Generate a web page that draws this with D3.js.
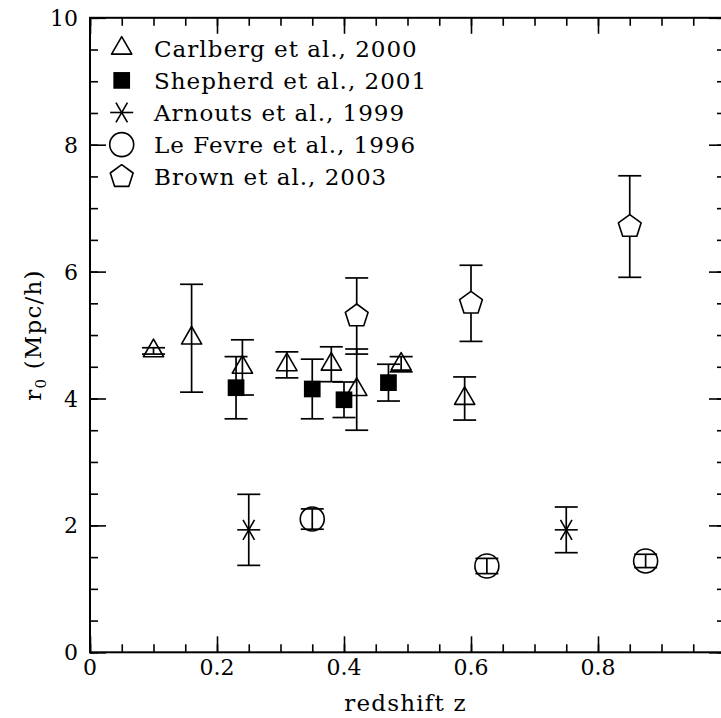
<!DOCTYPE html>
<html>
<head>
<meta charset="utf-8">
<script src="https://cdn.jsdelivr.net/npm/d3@7"></script>
<style>
  html, body { margin: 0; padding: 0; background: #fff; }
  svg { display: block; }
  text { font-family: "DejaVu Serif", "Liberation Serif", serif; fill: #000; }
</style>
</head>
<body>
<svg id="chart" width="721" height="718"></svg>
<script>
// ---------- data ----------
const carlbergZ   = [0.10, 0.16, 0.24, 0.31, 0.38, 0.42, 0.49, 0.59];
const carlbergR   = [4.75, 4.95, 4.49, 4.53, 4.54, 4.14, 4.54, 4.00];
const carlbergErr = [0.05, 0.85, 0.435, 0.205, 0.275, 0.64, 0.12, 0.34];

const shepherdZ   = [0.23, 0.35, 0.40, 0.47];
const shepherdR   = [4.17, 4.15, 3.98, 4.25];
const shepherdErr = [0.49, 0.47, 0.28, 0.29];

const arnoutsZ    = [0.25, 0.75];
const arnoutsR    = [1.93, 1.93];
const arnoutsErr  = [0.56, 0.36];

const lefevreZ    = [0.35, 0.625, 0.875];
const lefevreR    = [2.10, 1.36, 1.44];
const lefevreErr  = [0.16, 0.12, 0.105];

const brownZ      = [0.42, 0.60, 0.85];
const brownR      = [5.30, 5.50, 6.71];
const brownErr    = [0.60, 0.60, 0.80];

const legendLabels = ["Carlberg et al., 2000", "Shepherd et al., 2001",
                      "Arnouts et al., 1999", "Le Fevre et al., 1996", "Brown et al., 2003"];
const legendSymbols = ["triangle", "square", "asterisk", "circle", "pentagon"];

const xTickValues = [0, 0.2, 0.4, 0.6, 0.8];
const xTickLabels = ["0", "0.2", "0.4", "0.6", "0.8"];
const yTickValues = [0, 2, 4, 6, 8, 10];
const yTickLabels = ["0", "2", "4", "6", "8", "10"];
const xTitle = "redshift z";

// ---------- layout ----------
const svg = d3.select("#chart");
const x = d3.scaleLinear().domain([0, 1]).range([90, 725]);
const y = d3.scaleLinear().domain([0, 10]).range([652.3, 17.8]);
const INK = "#000";
const MAJOR = 16, MINOR = 8;

// frame
svg.append("rect")
  .attr("x", x(0)).attr("y", y(10))
  .attr("width", x(1) - x(0)).attr("height", y(0) - y(10))
  .attr("fill", "none").attr("stroke", INK).attr("stroke-width", 2);

function styleAxis(g) {
  g.select(".domain").remove();
  g.selectAll(".tick line").attr("stroke", INK).attr("stroke-width", 1.6);
  g.selectAll(".tick text").remove();
}
const xMajor = d3.range(0, 1.0001, 0.2);
const xMinor = d3.range(0, 1.0001, 0.05);
const yMajor = d3.range(0, 10.001, 2);
const yMinor = d3.range(0, 10.001, 0.5);

[[d3.axisBottom, y(0)], [d3.axisTop, y(10)]].forEach(([ax, ty]) => {
  svg.append("g").attr("transform", `translate(0,${ty})`)
    .call(ax(x).tickValues(xMinor).tickSizeInner(-MINOR).tickSizeOuter(0)).call(styleAxis);
  svg.append("g").attr("transform", `translate(0,${ty})`)
    .call(ax(x).tickValues(xMajor).tickSizeInner(-MAJOR).tickSizeOuter(0)).call(styleAxis);
});
[[d3.axisLeft, x(0)], [d3.axisRight, x(1)]].forEach(([ax, tx]) => {
  svg.append("g").attr("transform", `translate(${tx},0)`)
    .call(ax(y).tickValues(yMinor).tickSizeInner(-MINOR).tickSizeOuter(0)).call(styleAxis);
  svg.append("g").attr("transform", `translate(${tx},0)`)
    .call(ax(y).tickValues(yMajor).tickSizeInner(-MAJOR).tickSizeOuter(0)).call(styleAxis);
});

// tick labels
svg.append("g").selectAll("text").data(xTickValues).join("text")
  .attr("x", d => x(d)).attr("y", y(0) + 23)
  .attr("text-anchor", "middle").attr("font-size", 22)
  .text((d, i) => xTickLabels[i]);
svg.append("g").selectAll("text").data(yTickValues).join("text")
  .attr("x", x(0) - 12).attr("y", d => y(d) + 8)
  .attr("text-anchor", "end").attr("font-size", 22)
  .text((d, i) => yTickLabels[i]);

// axis titles
svg.append("text")
  .attr("x", (x(0) + x(1)) / 2 - 2).attr("y", 711)
  .attr("text-anchor", "middle").attr("font-size", 23)
  .attr("letter-spacing", 1.2)
  .text(xTitle);
const yt = svg.append("text")
  .attr("transform", `translate(41,${(y(0) + y(10)) / 2}) rotate(-90)`)
  .attr("text-anchor", "middle").attr("font-size", 23)
  .attr("letter-spacing", 1.2);
yt.append("tspan").text("r");
yt.append("tspan").attr("font-size", 15).attr("dy", 5).text("0");
yt.append("tspan").attr("dy", -5).text(" (Mpc/h)");

// ---------- markers ----------
const CAP = 11.5;
function marker(g, type, cx, cy) {
  if (type === "triangle") {
    const R = 11.7;
    const pts = [[0, -R], [R * Math.sin(Math.PI / 3), R / 2], [-R * Math.sin(Math.PI / 3), R / 2]];
    g.append("polygon").attr("points", pts.map(p => [cx + p[0], cy + p[1]].join(",")).join(" "))
      .attr("fill", "none").attr("stroke", INK).attr("stroke-width", 1.6)
      .attr("stroke-linejoin", "round");
  } else if (type === "square") {
    const s = 16.7;
    g.append("rect").attr("x", cx - s / 2).attr("y", cy - s / 2).attr("width", s).attr("height", s)
      .attr("fill", INK);
  } else if (type === "pentagon") {
    const R = 12;
    const pts = d3.range(5).map(k => {
      const a = -Math.PI / 2 + k * 2 * Math.PI / 5;
      return [cx + R * Math.cos(a), cy + R * Math.sin(a)];
    });
    g.append("polygon").attr("points", pts.map(p => p.join(",")).join(" "))
      .attr("fill", "#fff").attr("stroke", INK).attr("stroke-width", 1.6)
      .attr("stroke-linejoin", "round");
  } else if (type === "circle") {
    g.append("circle").attr("cx", cx).attr("cy", cy).attr("r", 12)
      .attr("fill", "none").attr("stroke", INK).attr("stroke-width", 1.6);
  } else if (type === "asterisk") {
    const r = 11.5;
    [0, 60, 120].forEach(deg => {
      const a = deg * Math.PI / 180;
      g.append("line")
        .attr("x1", cx - r * Math.cos(a)).attr("y1", cy - r * Math.sin(a))
        .attr("x2", cx + r * Math.cos(a)).attr("y2", cy + r * Math.sin(a))
        .attr("stroke", INK).attr("stroke-width", 1.6);
    });
  }
}

function errorBars(g, zs, rs, es) {
  zs.forEach((z, i) => {
    const cx = x(z), y1 = y(rs[i] - es[i]), y2 = y(rs[i] + es[i]);
    g.append("line").attr("x1", cx).attr("x2", cx).attr("y1", y1).attr("y2", y2)
      .attr("stroke", INK).attr("stroke-width", 1.7);
    [y1, y2].forEach(yy => g.append("line")
      .attr("x1", cx - CAP).attr("x2", cx + CAP).attr("y1", yy).attr("y2", yy)
      .attr("stroke", INK).attr("stroke-width", 1.7));
  });
}

const series = [
  {z: carlbergZ, r: carlbergR, e: carlbergErr, sym: "triangle"},
  {z: shepherdZ, r: shepherdR, e: shepherdErr, sym: "square"},
  {z: arnoutsZ, r: arnoutsR, e: arnoutsErr, sym: "asterisk"},
  {z: lefevreZ, r: lefevreR, e: lefevreErr, sym: "circle"},
  {z: brownZ, r: brownR, e: brownErr, sym: "pentagon"}
];
const plotG = svg.append("g");
series.forEach(s => {
  const g = plotG.append("g");
  errorBars(g, s.z, s.r, s.e);
  s.z.forEach((z, i) => marker(g, s.sym, x(z), y(s.r[i])));
});

// ---------- legend ----------
const legG = svg.append("g");
legendLabels.forEach((lab, i) => {
  const cy = 48.3 + i * 32.1;
  marker(legG, legendSymbols[i], 121.7, cy);
  legG.append("text").attr("x", 154).attr("y", cy + 8.5)
    .attr("font-size", 23).attr("letter-spacing", 1.0).text(lab);
});
</script>
</body>
</html>
